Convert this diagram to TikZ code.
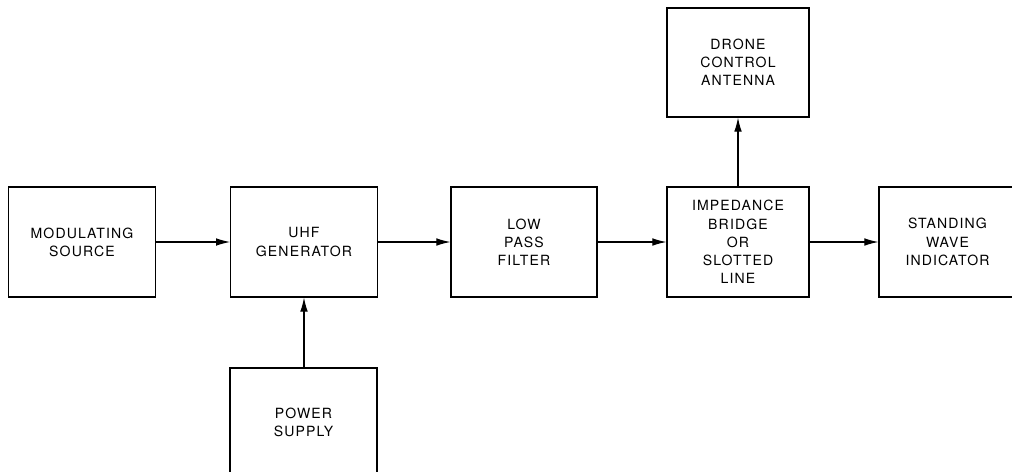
\documentclass[tikz,border=0pt]{standalone}
\usepackage{fontspec}
\newfontfamily\blockfont[LetterSpace=8]{TeX Gyre Heros}
\usetikzlibrary{arrows.meta}
\begin{document}
\begin{tikzpicture}[
  x=0.03cm, y=-0.03cm,
  every node/.style={font=\blockfont\fontsize{12}{15.5}\selectfont},
  block/.style={draw, line width=1pt, inner sep=0pt, align=center,
    minimum width=4.4cm, minimum height=3.3cm},
  arr/.style={line width=0.9pt, -{Latex[length=12pt,width=6.5pt]}}
]
\useasboundingbox (0,0) rectangle (1012,471);
% main row
\node[block] (mod) at (82,242) {MODULATING\\SOURCE};
\node[block] (uhf) at (304,242) {UHF\\GENERATOR};
\node[block, minimum width=4.38cm] (lpf) at (524,242) {LOW\\PASS\\FILTER};
\node[block, minimum width=4.26cm] (bridge) at (738,242) {IMPEDANCE\\BRIDGE\\OR\\SLOTTED\\LINE};
\node[block, minimum width=4.11cm] (swr) at (947.5,242) {STANDING\\WAVE\\INDICATOR};
% above and below
\node[block, minimum width=4.26cm, minimum height=3.27cm] (antenna) at (738,62.5) {DRONE\\CONTROL\\ANTENNA};
\node[block, minimum width=4.41cm, minimum height=3.24cm] (power) at (303.5,422) {POWER\\SUPPLY};
% connectors
\draw[arr] (mod) -- (uhf);
\draw[arr] (uhf) -- (lpf);
\draw[arr] (lpf) -- (bridge);
\draw[arr] (bridge) -- (swr);
\draw[arr] (bridge) -- (antenna);
\draw[arr] (power.north -| uhf.south) -- (uhf.south);
\end{tikzpicture}
\end{document}
